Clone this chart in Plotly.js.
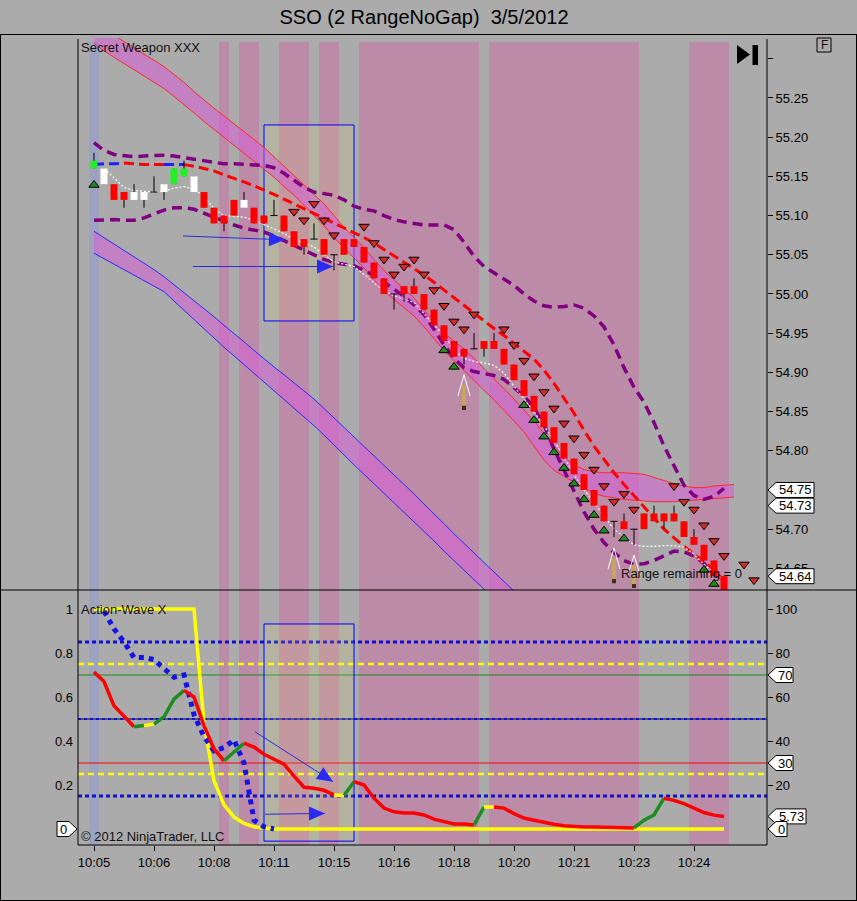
<!DOCTYPE html>
<html><head><meta charset="utf-8">
<script src="https://cdn.plot.ly/plotly-3.0.1.min.js"></script>
<style>html,body{margin:0;padding:0;background:#ABABAB;}#chart{width:857px;height:901px;}</style>
</head><body><div id="chart"></div>
<script>
// ---------------- DATA ----------------
const timeLabels = ['10:05','10:06','10:08','10:11','10:15','10:16','10:18','10:20','10:21','10:23','10:24'];
const barsPerLabel = 6;

const open  = [55.16,55.14,55.14,55.13,55.12,55.12,55.13,55.13,55.14,55.15,55.13,55.13,55.11,55.10,55.12,55.11,55.11,55.10,55.10,55.10,55.08,55.07,55.07,55.07,55.05,55.07,55.07,55.06,55.04,55.02,55.00,55.01,55.01,55.00,54.98,54.96,54.94,54.93,54.93,54.94,54.94,54.93,54.91,54.89,54.87,54.85,54.83,54.81,54.79,54.77,54.75,54.73,54.71,54.71,54.70,54.72,54.72,54.72,54.72,54.71,54.69,54.68,54.66,54.64];
const high  = [55.18,55.16,55.14,55.13,55.14,55.13,55.15,55.14,55.16,55.17,55.15,55.13,55.11,55.10,55.12,55.13,55.11,55.10,55.12,55.10,55.08,55.07,55.09,55.07,55.05,55.07,55.07,55.06,55.04,55.02,55.00,55.01,55.02,55.00,54.98,54.96,54.94,54.93,54.95,54.94,54.95,54.93,54.91,54.89,54.87,54.85,54.83,54.81,54.79,54.77,54.75,54.73,54.71,54.72,54.70,54.72,54.73,54.72,54.73,54.71,54.70,54.68,54.66,54.64];
const low   = [55.16,55.14,55.12,55.11,55.12,55.11,55.13,55.12,55.14,55.15,55.13,55.11,55.09,55.08,55.10,55.11,55.09,55.09,55.10,55.08,55.06,55.05,55.07,55.05,55.03,55.05,55.06,55.04,55.02,55.00,54.98,54.99,55.00,54.98,54.96,54.94,54.92,54.91,54.93,54.92,54.93,54.91,54.89,54.87,54.85,54.83,54.81,54.79,54.77,54.75,54.73,54.71,54.69,54.70,54.68,54.70,54.71,54.70,54.71,54.69,54.68,54.66,54.64,54.62];
const close = [55.17,55.16,55.12,55.12,55.13,55.13,55.13,55.14,55.16,55.16,55.15,55.11,55.09,55.09,55.10,55.12,55.09,55.09,55.10,55.08,55.06,55.06,55.07,55.05,55.05,55.05,55.06,55.04,55.02,55.00,55.00,55.00,55.00,54.98,54.96,54.94,54.92,54.92,54.93,54.93,54.93,54.91,54.89,54.87,54.85,54.83,54.81,54.79,54.77,54.75,54.73,54.71,54.71,54.70,54.70,54.70,54.71,54.71,54.71,54.69,54.68,54.66,54.64,54.62];
const signalColoredBars = [0, 8, 9];

// middle average (dashed), state 1 = blue, -1 = red
const midAvg = [55.165,55.166,55.166,55.167,55.166,55.165,55.165,55.165,55.165,55.165,55.163,55.160,55.157,55.152,55.148,55.143,55.138,55.133,55.127,55.121,55.115,55.109,55.103,55.097,55.090,55.084,55.078,55.072,55.065,55.057,55.049,55.041,55.033,55.024,55.015,55.005,54.995,54.985,54.976,54.966,54.956,54.947,54.937,54.928,54.917,54.903,54.886,54.867,54.848,54.826,54.806,54.789,54.772,54.757,54.743,54.729,54.714,54.700,54.689,54.678,54.668,54.658,54.648,54.634];
const midState = [1,1,1,1,-1,-1,-1,-1,1,1,-1,-1,-1,-1,-1,-1,-1,-1,-1,-1,-1,-1,-1,-1,-1,-1,-1,-1,-1,-1,-1,-1,-1,-1,-1,-1,-1,-1,-1,-1,-1,-1,-1,-1,-1,-1,-1,-1,-1,-1,-1,-1,-1,-1,-1,-1,-1,-1,-1,-1,-1,-1,-1,-1];

// purple dashed envelope
const envUpper = [55.193,55.183,55.178,55.176,55.175,55.176,55.177,55.177,55.176,55.174,55.172,55.169,55.167,55.166,55.166,55.165,55.165,55.164,55.161,55.154,55.145,55.136,55.130,55.128,55.126,55.120,55.112,55.108,55.106,55.100,55.095,55.092,55.090,55.088,55.088,55.088,55.082,55.066,55.048,55.035,55.027,55.019,55.011,55.000,54.991,54.985,54.983,54.984,54.986,54.982,54.972,54.958,54.935,54.906,54.881,54.862,54.836,54.806,54.780,54.756,54.743,54.738,54.742,54.752];
const envLower = [55.094,55.095,55.095,55.094,55.094,55.097,55.102,55.107,55.110,55.110,55.108,55.103,55.097,55.092,55.088,55.084,55.081,55.079,55.074,55.068,55.062,55.056,55.050,55.044,55.040,55.038,55.036,55.030,55.024,55.015,55.006,54.997,54.986,54.974,54.955,54.935,54.918,54.906,54.901,54.899,54.896,54.891,54.881,54.870,54.855,54.833,54.802,54.776,54.748,54.722,54.700,54.683,54.670,54.660,54.655,54.656,54.660,54.666,54.672,54.671,54.666,54.656,54.644,54.632];

// white dotted fast average (from bar 1)
const fastAvg = [55.160,55.148,55.136,55.132,55.131,55.130,55.131,55.135,55.137,55.134,55.124,55.109,55.100,55.099,55.098,55.094,55.089,55.083,55.077,55.070,55.065,55.060,55.050,55.041,55.038,55.035,55.025,55.014,55.004,54.998,54.993,54.989,54.975,54.960,54.948,54.928,54.918,54.914,54.912,54.909,54.899,54.882,54.866,54.850,54.832,54.813,54.792,54.770,54.750,54.735,54.716,54.700,54.690,54.680,54.678,54.678,54.679,54.679,54.677,54.668,54.655,54.645,54.635];

// upper channel (red borders)
const upChanTop = [55.345,55.338,55.330,55.322,55.314,55.306,55.298,55.290,55.280,55.270,55.258,55.247,55.237,55.227,55.217,55.207,55.197,55.187,55.175,55.163,55.152,55.140,55.128,55.115,55.100,55.085,55.072,55.059,55.044,55.030,55.018,55.006,54.995,54.980,54.965,54.950,54.940,54.930,54.918,54.905,54.893,54.880,54.866,54.852,54.838,54.822,54.806,54.792,54.782,54.776,54.773,54.772,54.772,54.772,54.771,54.770,54.766,54.762,54.758,54.755,54.753,54.753,54.755,54.756,54.757];
const upChanBot = [55.320,55.310,55.302,55.294,55.287,55.279,55.270,55.262,55.252,55.242,55.231,55.220,55.210,55.200,55.190,55.180,55.170,55.160,55.149,55.137,55.126,55.113,55.100,55.087,55.072,55.058,55.046,55.033,55.018,55.004,54.993,54.982,54.972,54.958,54.943,54.928,54.915,54.902,54.890,54.877,54.865,54.852,54.838,54.824,54.806,54.788,54.775,54.768,54.760,54.752,54.746,54.742,54.740,54.738,54.737,54.736,54.735,54.735,54.735,54.736,54.737,54.738,54.739,54.740,54.741];

// lower channel (blue borders)
const loChanTop = [55.080,55.072,55.064,55.056,55.048,55.039,55.031,55.022,55.012,55.002,54.992,54.982,54.971,54.960,54.950,54.939,54.928,54.917,54.907,54.897,54.887,54.877,54.866,54.854,54.842,54.830,54.818,54.806,54.794,54.782,54.770,54.757,54.745,54.732,54.720,54.707,54.694,54.682,54.670,54.657,54.645,54.633,54.621];
const loChanBot = [55.052,55.045,55.038,55.031,55.024,55.017,55.010,55.003,54.991,54.979,54.967,54.955,54.943,54.932,54.921,54.910,54.899,54.888,54.877,54.866,54.855,54.844,54.832,54.820,54.807,54.795,54.782,54.770,54.758,54.746,54.733,54.721,54.709,54.697,54.685,54.672,54.660,54.648,54.636,54.623,54.611,54.599,54.587];

// markers
const sellBars  = [20,21,22,23,24,27,28,29,30,31,32,33,34,35,36,37,38,41,42,43,44,45,46,47,48,49,50,51,52,53,54,58,59,60,61,62,63,65,66];
const sellPrice = [55.105,55.094,55.115,55.094,55.075,55.086,55.065,55.044,55.025,55.035,55.044,55.025,55.005,54.985,54.965,54.955,54.974,54.955,54.935,54.915,54.895,54.875,54.854,54.835,54.816,54.795,54.776,54.755,54.735,54.745,54.725,54.755,54.735,54.725,54.705,54.685,54.666,54.655,54.635];
const buyBars   = [0,35,36,43,44,45,46,47,48,49,50,51,53,61,62];
const buyPrice  = [55.139,54.928,54.907,54.858,54.839,54.818,54.798,54.778,54.758,54.738,54.718,54.698,54.688,54.648,54.630];
const signalBars = [37,52,54];
const signalTip  = [54.897,54.676,54.667];
const signalBase = [54.852,54.631,54.625];

// background session shading (bar index ranges)
const pinkStart = [13,15,19,23,27,40,60];
const pinkEnd   = [13,16,21,24,38,54,63];
const blueBars  = [0];

// lower panel: Action-Wave X (0..1)
const waveValue = [0.714,0.670,0.560,0.510,0.465,0.470,0.477,0.510,0.590,0.630,0.600,0.470,0.365,0.310,0.350,0.390,0.372,0.340,0.318,0.295,0.240,0.190,0.185,0.176,0.155,0.152,0.215,0.200,0.140,0.095,0.078,0.073,0.073,0.064,0.045,0.032,0.023,0.023,0.018,0.100,0.100,0.095,0.070,0.050,0.040,0.030,0.022,0.015,0.011,0.009,0.009,0.008,0.005,0.005,0.005,0.040,0.064,0.140,0.130,0.115,0.095,0.075,0.063,0.057];
const waveState = [-1,-1,-1,-1,-1,1,0,1,1,1,-1,-1,-1,-1,1,1,-1,-1,-1,-1,-1,-1,-1,-1,-1,0,1,-1,-1,-1,-1,-1,-1,-1,-1,-1,-1,-1,-1,1,0,-1,-1,-1,-1,-1,-1,-1,-1,-1,-1,-1,-1,-1,-1,1,1,1,-1,-1,-1,-1,-1,-1];
const yellowTrend = [1,1,1,1,1,1,1,1,1,1,1,0.48,0.22,0.11,0.055,0.025,0.01,0.004,0,0,0,0,0,0,0,0,0,0,0,0,0,0,0,0,0,0,0,0,0,0,0,0,0,0,0,0,0,0,0,0,0,0,0,0,0,0,0,0,0,0,0,0,0,0];
const blueTrend = [0.99,0.91,0.85,0.78,0.78,0.77,0.73,0.69,0.70,0.52,0.42,0.355,0.37,0.405,0.30,0.04,0.01,0.0]; // from bar 1
const waveLevels = [85,75,70,50,30,25,15];

// value tags on the axes
const priceTags = [54.75, 54.73, 54.64];
const waveTags = [70, 30, 5.73, 0];

// drawing objects on the chart
const drawnBoxTop = {x0:17, x1:26, y0:54.9656, y1:55.2156};
const drawnBoxLow = {x0:17, x1:26, y0:-5.5, y1:93.2};
const arrowsTop = [{x0:8.9,y0:55.074,x1:19.1,y1:55.069},{x0:9.9,y0:55.035,x1:23.9,y1:55.035}];
const arrowsLow = [{x0:16.1,y0:44.2,x1:23.9,y1:21.5},{x0:17.1,y0:6.7,x1:23.1,y1:7.1}];

// ---------------- LAYOUT CONSTANTS ----------------
const FONT = 'Liberation Sans, Arial, sans-serif';
const W = 857, H = 901, L = 78, R = 767, T = 38, B = 845, SEP = 590;
const PW = R - L, PH = B - T;
const pxX = x => (x - L) / PW;
const pxY = y => (B - y) / PH;
const splitFrac = pxY(SEP);
const xRange = [-1.6, 67.3];
const priceRange = [54.6224, 55.3265];
const waveRange = [-7.27, 108.64];
const BG = '#ABABAB', PINK = '#BC8BA8', BLUEBAND = '#9CA2BF';

const idx = open.map((_, i) => i);
const seq = (arr, start) => arr.map((_, k) => k + (start || 0));
const traces = [];
const base = {type:'scatter', mode:'lines', hoverinfo:'skip', showlegend:false};

function segTraces(xs, ys, states, colors, line, yaxis) {
  const runs = []; let cur = null;
  for (let k = 1; k < xs.length; k++) {
    const s = states[k];
    if (!cur || cur.s !== s) { cur = {s, x:[xs[k-1]], y:[ys[k-1]]}; runs.push(cur); }
    cur.x.push(xs[k]); cur.y.push(ys[k]);
  }
  return runs.map(r => Object.assign({}, base, {x:r.x, y:r.y, yaxis, line:Object.assign({}, line, {color:colors[r.s]})}));
}

// channels
const chanFill = 'rgba(215,95,215,0.55)';
traces.push(Object.assign({}, base, {x:seq(loChanBot), y:loChanBot, line:{color:'#2B2BFF', width:1}}));
traces.push(Object.assign({}, base, {x:seq(loChanTop), y:loChanTop, fill:'tonexty', fillcolor:chanFill, line:{color:'#2B2BFF', width:1}}));
traces.push(Object.assign({}, base, {x:seq(upChanBot), y:upChanBot, line:{color:'#FF2A2A', width:1}}));
traces.push(Object.assign({}, base, {x:seq(upChanTop), y:upChanTop, fill:'tonexty', fillcolor:chanFill, line:{color:'#FF2A2A', width:1}}));
// envelope
traces.push(Object.assign({}, base, {x:seq(envUpper), y:envUpper, line:{color:'#800080', width:3.5, dash:'10px,6px'}}));
traces.push(Object.assign({}, base, {x:seq(envLower), y:envLower, line:{color:'#800080', width:3.5, dash:'10px,6px'}}));
// middle average
segTraces(idx, midAvg, midState, {'1':'#2020FF','-1':'#FF0000'}, {width:3, dash:'10px,5px'}, 'y').forEach(t => traces.push(t));
// fast average
traces.push(Object.assign({}, base, {x:seq(fastAvg, 1), y:fastAvg, line:{color:'#FFFFFF', width:1.2, dash:'2px,2px'}}));
// wicks and doji ticks
const wx = [], wy = [];
idx.forEach(i => {
  wx.push(i, i, null); wy.push(low[i], high[i], null);
  if (Math.abs(open[i] - close[i]) < 1e-9) { wx.push(i - 0.36, i + 0.36, null); wy.push(open[i], open[i], null); }
});
traces.push(Object.assign({}, base, {x:wx, y:wy, line:{color:'#000000', width:1}}));
// bodies (thick vertical segments, one trace per body colour)
const bodyGroups = {};
idx.filter(i => Math.abs(open[i] - close[i]) > 1e-9).forEach(i => {
  const col = signalColoredBars.includes(i) ? '#22F022' : (close[i] > open[i] ? '#FFFFFF' : '#FF0000');
  const g = bodyGroups[col] || (bodyGroups[col] = {x:[], y:[]});
  g.x.push(i, i, null); g.y.push(Math.min(open[i], close[i]), Math.max(open[i], close[i]), null);
});
Object.keys(bodyGroups).forEach(col => traces.push(Object.assign({}, base, {x:bodyGroups[col].x, y:bodyGroups[col].y, line:{color:col, width:7}})));
// triangles
traces.push({type:'scatter', mode:'markers', x:sellBars, y:sellPrice, hoverinfo:'skip', showlegend:false,
  marker:{symbol:'triangle-down', size:9, color:'#D42A2A', line:{color:'#000', width:1}}});
traces.push({type:'scatter', mode:'markers', x:buyBars, y:buyPrice, hoverinfo:'skip', showlegend:false,
  marker:{symbol:'triangle-up', size:9, color:'#1F8A1F', line:{color:'#000', width:1}}});
// signal arrows
const shx = [], shy = [], sbx = [], sby = [], chx = [], chy = [];
signalBars.forEach((b, k) => {
  const len = signalTip[k] - signalBase[k];
  shx.push(b, b, null); shy.push(signalBase[k] + len * 0.12, signalTip[k] - len * 0.3, null);
  sbx.push(b, b, null); sby.push(signalBase[k], signalBase[k] + len * 0.12, null);
  chx.push(b - 0.6, b, b + 0.6, null); chy.push(signalTip[k] - len * 0.6, signalTip[k], signalTip[k] - len * 0.6, null);
});
traces.push(Object.assign({}, base, {x:shx, y:shy, line:{color:'#C9A55C', width:4}}));
traces.push(Object.assign({}, base, {x:sbx, y:sby, line:{color:'#3A3020', width:4}}));
traces.push(Object.assign({}, base, {x:chx, y:chy, line:{color:'#FFFFFF', width:1}}));

// lower panel
traces.push(Object.assign({}, base, {x:idx, y:yellowTrend, yaxis:'y3', line:{color:'#FFFF00', width:3.5}}));
traces.push(Object.assign({}, base, {x:seq(blueTrend, 1), y:blueTrend, yaxis:'y3', line:{color:'#1414E6', width:5, dash:'5px,5px'}}));
segTraces(idx, waveValue, waveState, {'-1':'#FF0000','1':'#1E8C1E','0':'#FFFF00'}, {width:3.5}, 'y3').forEach(t => traces.push(t));

// ---------------- SHAPES ----------------
const shapes = [];
const bandTop = pxY(42);
pinkStart.forEach((s, k) => shapes.push({type:'rect', xref:'x', yref:'paper', x0:s - 0.5, x1:pinkEnd[k] + 0.5, y0:0, y1:bandTop, fillcolor:PINK, line:{width:0}, layer:'below'}));
blueBars.forEach(b => shapes.push({type:'rect', xref:'x', yref:'paper', x0:b - 0.5, x1:b + 0.5, y0:0, y1:bandTop, fillcolor:BLUEBAND, line:{width:0}, layer:'below'}));
// level lines
const levelStyle = {
  85:[{color:'#1010D0', width:3, dash:'4px,3px'}],
  75:[{color:'#FFFF00', width:2.5, dash:'6px,4px'}],
  70:[{color:'#1F8A1F', width:1}],
  50:[{color:'#000000', width:1}, {color:'#1010D0', width:2, dash:'3px,3px'}],
  30:[{color:'#FF0000', width:1}],
  25:[{color:'#FFFF00', width:2.5, dash:'6px,4px'}],
  15:[{color:'#1010D0', width:3, dash:'4px,3px'}]
};
waveLevels.forEach(v => levelStyle[v].forEach(st => shapes.push({type:'line', xref:'paper', yref:'y2', x0:0, x1:1, y0:v, y1:v, line:st, layer:'below'})));
// drawn boxes
shapes.push({type:'rect', xref:'x', yref:'y', x0:drawnBoxTop.x0, x1:drawnBoxTop.x1, y0:drawnBoxTop.y0, y1:drawnBoxTop.y1, fillcolor:'rgba(235,225,110,0.15)', line:{color:'#0000FF', width:1}, layer:'below'});
shapes.push({type:'rect', xref:'x', yref:'y2', x0:drawnBoxLow.x0, x1:drawnBoxLow.x1, y0:drawnBoxLow.y0, y1:drawnBoxLow.y1, fillcolor:'rgba(235,225,110,0.15)', line:{color:'#0000FF', width:1}, layer:'below'});
// arrows
const pxPerBar = PW / (xRange[1] - xRange[0]);
const pxPerPrice = (SEP - T) / (priceRange[1] - priceRange[0]);
const pxPerWave = (B - SEP) / (waveRange[1] - waveRange[0]);
function arrow(a, yref, pxPerY) {
  shapes.push({type:'line', xref:'x', yref, x0:a.x0, y0:a.y0, x1:a.x1, y1:a.y1, line:{color:'#2A2AE0', width:1}, layer:'above'});
  const dx = (a.x1 - a.x0) * pxPerBar, dy = (a.y1 - a.y0) * pxPerY;
  const n = Math.hypot(dx, dy), ux = dx / n, uy = dy / n;
  const bx = -16 * ux, by = -16 * uy, qx = -uy * 7, qy = ux * 7;
  shapes.push({type:'path', xref:'x', yref, xsizemode:'pixel', ysizemode:'pixel', xanchor:a.x1, yanchor:a.y1,
    path:`M0,0 L${(bx+qx).toFixed(1)},${(by+qy).toFixed(1)} L${(bx-qx).toFixed(1)},${(by-qy).toFixed(1)} Z`,
    fillcolor:'#2A2AF5', line:{width:0}, layer:'above'});
}
arrowsTop.forEach(a => arrow(a, 'y', pxPerPrice));
arrowsLow.forEach(a => arrow(a, 'y2', pxPerWave));
// frame lines
const ln = (x0, y0, x1, y1) => shapes.push({type:'line', xref:'paper', yref:'paper', x0:pxX(x0), y0:pxY(y0), x1:pxX(x1), y1:pxY(y1), line:{color:'#000', width:1}, layer:'above'});
ln(0, 34.5, W, 34.5);
ln(0.5, 34.5, 0.5, H);
ln(W - 0.5, 34.5, W - 0.5, H);
ln(0, H - 0.5, W, H - 0.5);
ln(0, SEP, W, SEP);
ln(L, 39, L, B);
ln(R, 39, R, B);
ln(L, B, R, B);
// tag boxes
const tagBox = (yref, v, bodyW, side) => {
  const s = side === 'left' ? -1 : 1;
  shapes.push({type:'path', xref:'paper', yref, xsizemode:'pixel', ysizemode:'pixel', xanchor: side === 'left' ? 0 : 1, yanchor:v,
    path:`M${s*1},0 L${s*9},7.5 L${s*(9+bodyW)},7.5 L${s*(9+bodyW)},-7.5 L${s*9},-7.5 Z`, fillcolor:'#FFFFFF', line:{color:'#000', width:1}, layer:'above'});
};
const tagW = {'54.75':38, '54.73':38, '54.64':38, '70':17, '30':17, '5.73':30, '0':11};
priceTags.forEach(v => tagBox('y', v, tagW[v.toFixed(2)], 'right'));
waveTags.forEach(v => tagBox('y2', v, tagW[String(v)], 'right'));
tagBox('y2', 0, 12, 'left');
// F box and end icon
shapes.push({type:'rect', xref:'paper', yref:'paper', x0:pxX(817), x1:pxX(831), y0:pxY(38), y1:pxY(52), line:{color:'#000', width:1}, fillcolor:'rgba(0,0,0,0)', layer:'above'});
shapes.push({type:'path', xref:'paper', yref:'paper', path:`M${pxX(737)},${pxY(45)} L${pxX(750)},${pxY(54.5)} L${pxX(737)},${pxY(64)} Z`, fillcolor:'#000', line:{width:0}, layer:'above'});
shapes.push({type:'rect', xref:'paper', yref:'paper', x0:pxX(752.5), x1:pxX(758), y0:pxY(45), y1:pxY(65), fillcolor:'#000', line:{width:0}, layer:'above'});

// ---------------- ANNOTATIONS ----------------
const txt = (text, x, y, anchor, size) => ({xref:'paper', yref:'paper', x:pxX(x), y:pxY(y), xanchor:anchor || 'left', yanchor:'middle', text, showarrow:false, font:{family:FONT, size:size || 13, color:'#111'}});
const annotations = [
  txt('Secret Weapon XXX', 79, 47),
  txt('Action-Wave X', 79, 609),
  txt('© 2012 NinjaTrader, LLC', 79, 836),
  txt('Range remaining = 0', 619, 573),
  txt('F', 824, 45, 'center', 12)
];
const tagText = (yref, v, label, shift) => annotations.push({xref:'paper', yref, x:1, y:v, xanchor:'center', yanchor:'middle', xshift:shift, text:label, showarrow:false, font:{family:FONT, size:13, color:'#000'}});
priceTags.forEach(v => tagText('y', v, v.toFixed(2), 9 + tagW[v.toFixed(2)] / 2));
waveTags.forEach(v => tagText('y2', v, String(v), 9 + tagW[String(v)] / 2));
tagText('y2', 0, '0', 0);
annotations[annotations.length - 1].x = 0;
annotations[annotations.length - 1].xshift = -15;

// ---------------- AXES ----------------
const priceTicks = [55.30,55.25,55.20,55.15,55.10,55.05,55.00,54.95,54.90,54.85,54.80,54.75,54.70,54.65];
const tickFont = {family:FONT, size:13, color:'#000'};
const layout = {
  width:W, height:H, margin:{l:L, r:W - R, t:T, b:H - B, pad:0},
  paper_bgcolor:BG, plot_bgcolor:BG, showlegend:false, hovermode:false,
  title:{text:'SSO (2 RangeNoGap) \u00a03/5/2012', font:{family:FONT, size:20, color:'#000'}, x:424 / W, xref:'container', xanchor:'center', y:1 - 17 / H, yref:'container', yanchor:'middle'},
  xaxis:{domain:[0,1], range:xRange, anchor:'y2', tickmode:'array', tickvals:timeLabels.map((_, k) => k * barsPerLabel), ticktext:timeLabels,
    ticks:'outside', ticklen:5, tickcolor:'#000', tickfont:tickFont, showgrid:false, zeroline:false, showline:false, fixedrange:true},
  yaxis:{domain:[splitFrac, 1], range:priceRange, side:'right', anchor:'x', tickmode:'array', tickvals:priceTicks,
    ticktext:priceTicks.map(v => (v > 55.28 || priceTags.some(t => Math.abs(t - v) < 0.001)) ? '' : v.toFixed(2)), ticks:'outside', ticklen:5, tickcolor:'#000', tickfont:tickFont,
    showgrid:false, zeroline:false, showline:false, fixedrange:true},
  yaxis2:{domain:[0, splitFrac], range:waveRange, side:'right', anchor:'x', tickmode:'array', tickvals:[100,80,60,40,20],
    ticks:'outside', ticklen:5, tickcolor:'#000', tickfont:tickFont, showgrid:false, zeroline:false, showline:false, fixedrange:true},
  yaxis3:{overlaying:'y2', range:waveRange.map(v => v / 100), side:'left', anchor:'x', tickmode:'array', tickvals:[1,0.8,0.6,0.4,0.2],
    ticktext:['1','0.8','0.6','0.4','0.2'], ticks:'', tickfont:tickFont, ticklabelstandoff:4, showgrid:false, zeroline:false, showline:false, fixedrange:true},
  shapes, annotations
};
Plotly.newPlot('chart', traces, layout, {staticPlot:true, displayModeBar:false});
</script></body></html>
